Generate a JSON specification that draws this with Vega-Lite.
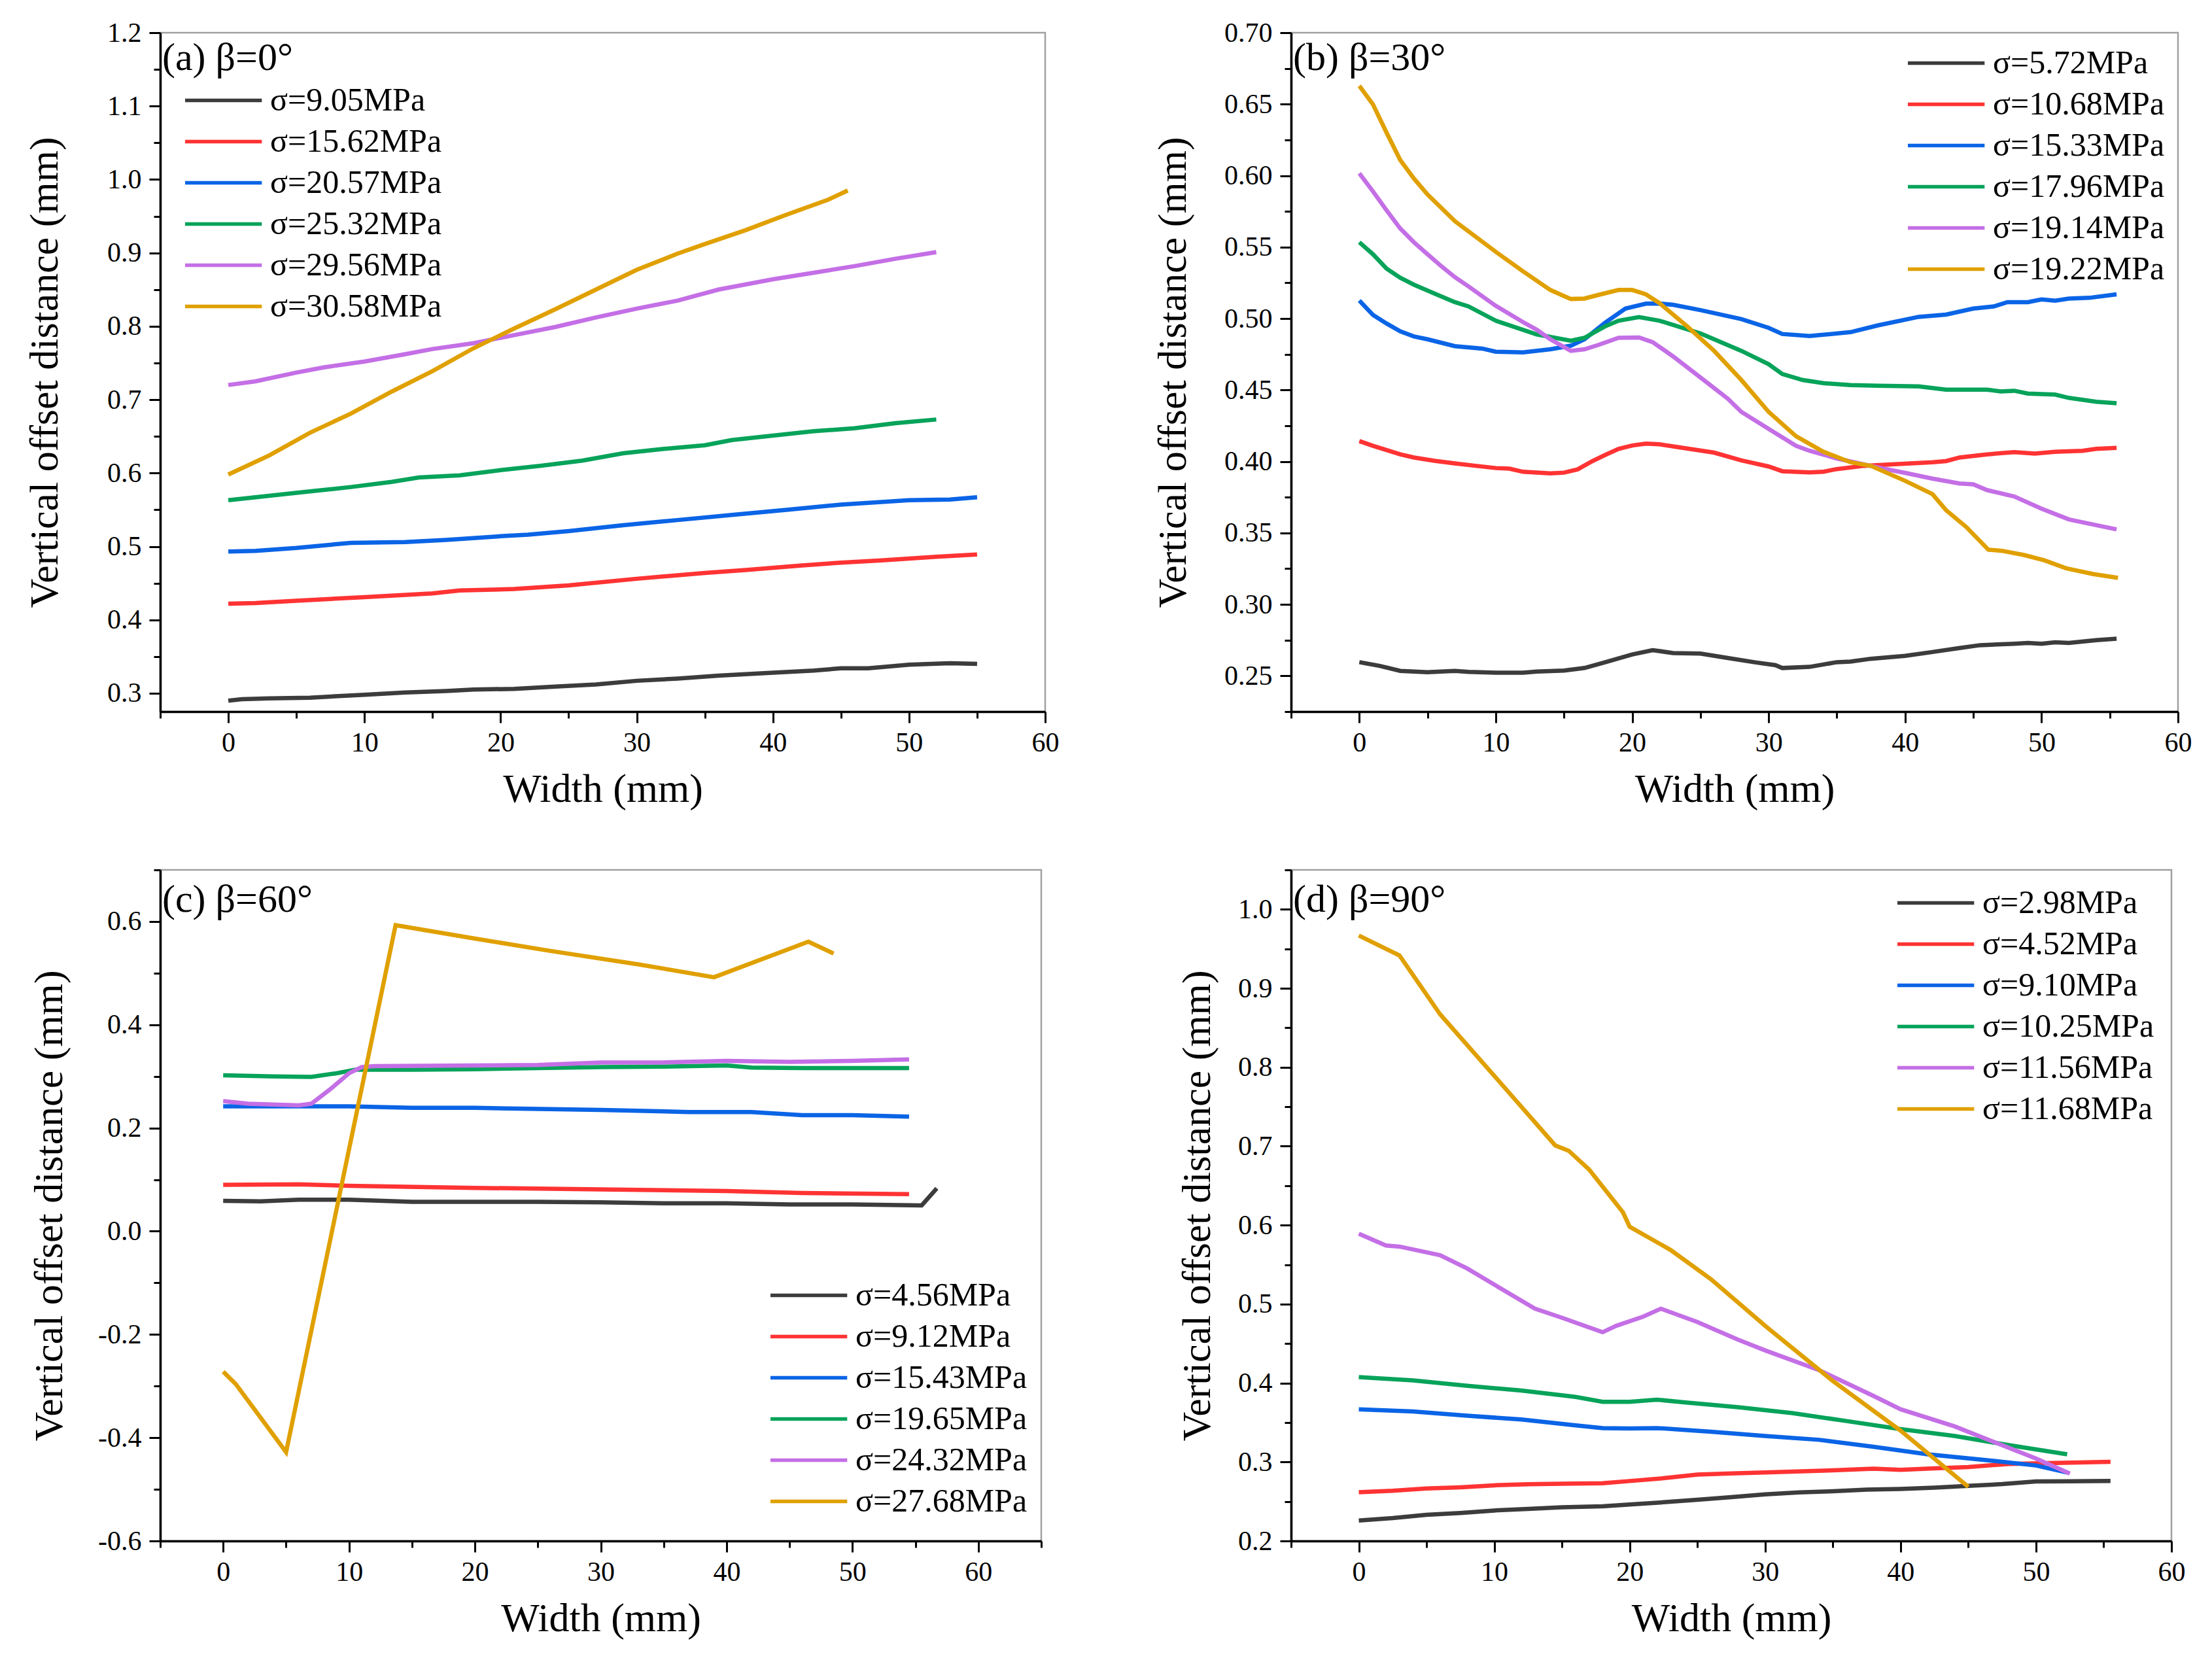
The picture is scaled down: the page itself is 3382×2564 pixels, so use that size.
{
  "$schema": "https://vega.github.io/schema/vega-lite/v6.json",
  "background": "white",
  "padding": {"left": 36, "top": 27, "right": 5, "bottom": 5},
  "columns": 2,
  "bounds": "flush",
  "align": "each",
  "spacing": {"row": 242, "column": 376},
  "resolve": {"scale": {"x": "independent", "y": "independent", "color": "independent"}, "legend": {"color": "independent"}, "axis": {"x": "independent", "y": "independent"}},
  "datasets": {
    "a": [
      {"s":"σ=9.05MPa","x":0,"y":0.290},{"s":"σ=9.05MPa","x":1,"y":0.292},{"s":"σ=9.05MPa","x":3,"y":0.293},{"s":"σ=9.05MPa","x":6,"y":0.294},{"s":"σ=9.05MPa","x":10,"y":0.298},{"s":"σ=9.05MPa","x":13,"y":0.301},{"s":"σ=9.05MPa","x":16,"y":0.303},{"s":"σ=9.05MPa","x":18,"y":0.305},{"s":"σ=9.05MPa","x":21,"y":0.306},{"s":"σ=9.05MPa","x":24,"y":0.309},{"s":"σ=9.05MPa","x":27,"y":0.312},{"s":"σ=9.05MPa","x":30,"y":0.317},{"s":"σ=9.05MPa","x":33,"y":0.320},{"s":"σ=9.05MPa","x":36,"y":0.324},{"s":"σ=9.05MPa","x":40,"y":0.328},{"s":"σ=9.05MPa","x":43,"y":0.331},{"s":"σ=9.05MPa","x":45,"y":0.334},{"s":"σ=9.05MPa","x":47,"y":0.334},{"s":"σ=9.05MPa","x":50,"y":0.339},{"s":"σ=9.05MPa","x":53,"y":0.341},{"s":"σ=9.05MPa","x":55,"y":0.340},
      {"s":"σ=15.62MPa","x":0,"y":0.422},{"s":"σ=15.62MPa","x":2,"y":0.423},{"s":"σ=15.62MPa","x":5,"y":0.426},{"s":"σ=15.62MPa","x":10,"y":0.431},{"s":"σ=15.62MPa","x":15,"y":0.436},{"s":"σ=15.62MPa","x":17,"y":0.440},{"s":"σ=15.62MPa","x":21,"y":0.442},{"s":"σ=15.62MPa","x":25,"y":0.447},{"s":"σ=15.62MPa","x":30,"y":0.456},{"s":"σ=15.62MPa","x":35,"y":0.464},{"s":"σ=15.62MPa","x":38,"y":0.468},{"s":"σ=15.62MPa","x":42,"y":0.474},{"s":"σ=15.62MPa","x":45,"y":0.478},{"s":"σ=15.62MPa","x":48,"y":0.481},{"s":"σ=15.62MPa","x":52,"y":0.486},{"s":"σ=15.62MPa","x":55,"y":0.489},
      {"s":"σ=20.57MPa","x":0,"y":0.493},{"s":"σ=20.57MPa","x":2,"y":0.494},{"s":"σ=20.57MPa","x":5,"y":0.498},{"s":"σ=20.57MPa","x":9,"y":0.505},{"s":"σ=20.57MPa","x":13,"y":0.506},{"s":"σ=20.57MPa","x":16,"y":0.509},{"s":"σ=20.57MPa","x":20,"y":0.514},{"s":"σ=20.57MPa","x":22,"y":0.516},{"s":"σ=20.57MPa","x":25,"y":0.521},{"s":"σ=20.57MPa","x":29,"y":0.529},{"s":"σ=20.57MPa","x":33,"y":0.536},{"s":"σ=20.57MPa","x":37,"y":0.543},{"s":"σ=20.57MPa","x":41,"y":0.550},{"s":"σ=20.57MPa","x":45,"y":0.557},{"s":"σ=20.57MPa","x":50,"y":0.563},{"s":"σ=20.57MPa","x":53,"y":0.564},{"s":"σ=20.57MPa","x":55,"y":0.567},
      {"s":"σ=25.32MPa","x":0,"y":0.563},{"s":"σ=25.32MPa","x":3,"y":0.569},{"s":"σ=25.32MPa","x":6,"y":0.575},{"s":"σ=25.32MPa","x":9,"y":0.581},{"s":"σ=25.32MPa","x":12,"y":0.588},{"s":"σ=25.32MPa","x":14,"y":0.594},{"s":"σ=25.32MPa","x":17,"y":0.597},{"s":"σ=25.32MPa","x":20,"y":0.604},{"s":"σ=25.32MPa","x":23,"y":0.610},{"s":"σ=25.32MPa","x":26,"y":0.617},{"s":"σ=25.32MPa","x":29,"y":0.627},{"s":"σ=25.32MPa","x":32,"y":0.633},{"s":"σ=25.32MPa","x":35,"y":0.638},{"s":"σ=25.32MPa","x":37,"y":0.645},{"s":"σ=25.32MPa","x":40,"y":0.651},{"s":"σ=25.32MPa","x":43,"y":0.657},{"s":"σ=25.32MPa","x":46,"y":0.661},{"s":"σ=25.32MPa","x":49,"y":0.668},{"s":"σ=25.32MPa","x":52,"y":0.673},
      {"s":"σ=29.56MPa","x":0,"y":0.720},{"s":"σ=29.56MPa","x":2,"y":0.725},{"s":"σ=29.56MPa","x":5,"y":0.737},{"s":"σ=29.56MPa","x":7,"y":0.744},{"s":"σ=29.56MPa","x":10,"y":0.752},{"s":"σ=29.56MPa","x":13,"y":0.762},{"s":"σ=29.56MPa","x":15,"y":0.769},{"s":"σ=29.56MPa","x":18,"y":0.777},{"s":"σ=29.56MPa","x":21,"y":0.788},{"s":"σ=29.56MPa","x":24,"y":0.799},{"s":"σ=29.56MPa","x":27,"y":0.812},{"s":"σ=29.56MPa","x":30,"y":0.824},{"s":"σ=29.56MPa","x":33,"y":0.835},{"s":"σ=29.56MPa","x":36,"y":0.850},{"s":"σ=29.56MPa","x":40,"y":0.864},{"s":"σ=29.56MPa","x":43,"y":0.873},{"s":"σ=29.56MPa","x":46,"y":0.882},{"s":"σ=29.56MPa","x":49,"y":0.892},{"s":"σ=29.56MPa","x":52,"y":0.901},
      {"s":"σ=30.58MPa","x":0,"y":0.598},{"s":"σ=30.58MPa","x":3,"y":0.624},{"s":"σ=30.58MPa","x":6,"y":0.655},{"s":"σ=30.58MPa","x":9,"y":0.681},{"s":"σ=30.58MPa","x":12,"y":0.711},{"s":"σ=30.58MPa","x":15,"y":0.739},{"s":"σ=30.58MPa","x":18,"y":0.770},{"s":"σ=30.58MPa","x":21,"y":0.797},{"s":"σ=30.58MPa","x":24,"y":0.823},{"s":"σ=30.58MPa","x":27,"y":0.850},{"s":"σ=30.58MPa","x":30,"y":0.877},{"s":"σ=30.58MPa","x":33,"y":0.899},{"s":"σ=30.58MPa","x":35,"y":0.912},{"s":"σ=30.58MPa","x":38,"y":0.931},{"s":"σ=30.58MPa","x":41,"y":0.952},{"s":"σ=30.58MPa","x":44,"y":0.972},{"s":"σ=30.58MPa","x":45.5,"y":0.985}
    ],
    "b": [
      {"s":"σ=5.72MPa","x":0,"y":0.2596},{"s":"σ=5.72MPa","x":1.5,"y":0.257},{"s":"σ=5.72MPa","x":3,"y":0.2535},{"s":"σ=5.72MPa","x":5,"y":0.2526},{"s":"σ=5.72MPa","x":7,"y":0.2535},{"s":"σ=5.72MPa","x":8,"y":0.2528},{"s":"σ=5.72MPa","x":10,"y":0.2522},{"s":"σ=5.72MPa","x":12,"y":0.2522},{"s":"σ=5.72MPa","x":13,"y":0.2530},{"s":"σ=5.72MPa","x":15,"y":0.2537},{"s":"σ=5.72MPa","x":16.5,"y":0.2555},{"s":"σ=5.72MPa","x":18,"y":0.2595},{"s":"σ=5.72MPa","x":20,"y":0.265},{"s":"σ=5.72MPa","x":21.5,"y":0.268},{"s":"σ=5.72MPa","x":23,"y":0.266},{"s":"σ=5.72MPa","x":25,"y":0.2656},{"s":"σ=5.72MPa","x":27,"y":0.2625},{"s":"σ=5.72MPa","x":29,"y":0.2595},{"s":"σ=5.72MPa","x":30.5,"y":0.2575},{"s":"σ=5.72MPa","x":31,"y":0.2555},{"s":"σ=5.72MPa","x":33,"y":0.2563},{"s":"σ=5.72MPa","x":35,"y":0.2596},{"s":"σ=5.72MPa","x":36,"y":0.260},{"s":"σ=5.72MPa","x":37.5,"y":0.262},{"s":"σ=5.72MPa","x":40,"y":0.264},{"s":"σ=5.72MPa","x":42,"y":0.2667},{"s":"σ=5.72MPa","x":44,"y":0.2695},{"s":"σ=5.72MPa","x":45.5,"y":0.2715},{"s":"σ=5.72MPa","x":48,"y":0.2725},{"s":"σ=5.72MPa","x":49,"y":0.273},{"s":"σ=5.72MPa","x":50,"y":0.2725},{"s":"σ=5.72MPa","x":51,"y":0.2735},{"s":"σ=5.72MPa","x":52,"y":0.273},{"s":"σ=5.72MPa","x":54,"y":0.275},{"s":"σ=5.72MPa","x":55.5,"y":0.276},
      {"s":"σ=10.68MPa","x":0,"y":0.4143},{"s":"σ=10.68MPa","x":1,"y":0.411},{"s":"σ=10.68MPa","x":2,"y":0.408},{"s":"σ=10.68MPa","x":3,"y":0.405},{"s":"σ=10.68MPa","x":4,"y":0.4028},{"s":"σ=10.68MPa","x":5.5,"y":0.4005},{"s":"σ=10.68MPa","x":7,"y":0.3987},{"s":"σ=10.68MPa","x":8.5,"y":0.397},{"s":"σ=10.68MPa","x":10,"y":0.3954},{"s":"σ=10.68MPa","x":11,"y":0.395},{"s":"σ=10.68MPa","x":12,"y":0.3928},{"s":"σ=10.68MPa","x":14,"y":0.3917},{"s":"σ=10.68MPa","x":15,"y":0.3922},{"s":"σ=10.68MPa","x":16,"y":0.3945},{"s":"σ=10.68MPa","x":17,"y":0.3999},{"s":"σ=10.68MPa","x":18,"y":0.4045},{"s":"σ=10.68MPa","x":19,"y":0.4088},{"s":"σ=10.68MPa","x":20,"y":0.4112},{"s":"σ=10.68MPa","x":21,"y":0.4125},{"s":"σ=10.68MPa","x":22,"y":0.412},{"s":"σ=10.68MPa","x":23,"y":0.4106},{"s":"σ=10.68MPa","x":26,"y":0.4062},{"s":"σ=10.68MPa","x":28,"y":0.4008},{"s":"σ=10.68MPa","x":30,"y":0.3965},{"s":"σ=10.68MPa","x":31,"y":0.3932},{"s":"σ=10.68MPa","x":33,"y":0.3924},{"s":"σ=10.68MPa","x":34,"y":0.3928},{"s":"σ=10.68MPa","x":35,"y":0.3947},{"s":"σ=10.68MPa","x":37,"y":0.397},{"s":"σ=10.68MPa","x":39,"y":0.398},{"s":"σ=10.68MPa","x":42,"y":0.3995},{"s":"σ=10.68MPa","x":43,"y":0.4003},{"s":"σ=10.68MPa","x":44,"y":0.4028},{"s":"σ=10.68MPa","x":46,"y":0.405},{"s":"σ=10.68MPa","x":48,"y":0.4065},{"s":"σ=10.68MPa","x":49.5,"y":0.4055},{"s":"σ=10.68MPa","x":51,"y":0.4068},{"s":"σ=10.68MPa","x":53,"y":0.4075},{"s":"σ=10.68MPa","x":54,"y":0.4088},{"s":"σ=10.68MPa","x":55.5,"y":0.4095},
      {"s":"σ=15.33MPa","x":0,"y":0.5126},{"s":"σ=15.33MPa","x":1,"y":0.5025},{"s":"σ=15.33MPa","x":2,"y":0.4965},{"s":"σ=15.33MPa","x":3,"y":0.4911},{"s":"σ=15.33MPa","x":4,"y":0.4875},{"s":"σ=15.33MPa","x":5,"y":0.4855},{"s":"σ=15.33MPa","x":7,"y":0.4807},{"s":"σ=15.33MPa","x":9,"y":0.479},{"s":"σ=15.33MPa","x":10,"y":0.4768},{"s":"σ=15.33MPa","x":12,"y":0.4763},{"s":"σ=15.33MPa","x":14,"y":0.4785},{"s":"σ=15.33MPa","x":15.5,"y":0.481},{"s":"σ=15.33MPa","x":16.5,"y":0.4855},{"s":"σ=15.33MPa","x":18,"y":0.497},{"s":"σ=15.33MPa","x":19.5,"y":0.507},{"s":"σ=15.33MPa","x":21,"y":0.5104},{"s":"σ=15.33MPa","x":22,"y":0.5105},{"s":"σ=15.33MPa","x":23,"y":0.5096},{"s":"σ=15.33MPa","x":25,"y":0.5059},{"s":"σ=15.33MPa","x":28,"y":0.4996},{"s":"σ=15.33MPa","x":30,"y":0.4935},{"s":"σ=15.33MPa","x":31,"y":0.4892},{"s":"σ=15.33MPa","x":33,"y":0.4878},{"s":"σ=15.33MPa","x":36,"y":0.4905},{"s":"σ=15.33MPa","x":38,"y":0.4952},{"s":"σ=15.33MPa","x":41,"y":0.5012},{"s":"σ=15.33MPa","x":43,"y":0.5028},{"s":"σ=15.33MPa","x":45,"y":0.507},{"s":"σ=15.33MPa","x":46.5,"y":0.5085},{"s":"σ=15.33MPa","x":47.5,"y":0.5115},{"s":"σ=15.33MPa","x":49,"y":0.5115},{"s":"σ=15.33MPa","x":50,"y":0.5134},{"s":"σ=15.33MPa","x":51,"y":0.5125},{"s":"σ=15.33MPa","x":52,"y":0.514},{"s":"σ=15.33MPa","x":53.5,"y":0.5145},{"s":"σ=15.33MPa","x":55.5,"y":0.517},
      {"s":"σ=17.96MPa","x":0,"y":0.5534},{"s":"σ=17.96MPa","x":1,"y":0.545},{"s":"σ=17.96MPa","x":2,"y":0.5349},{"s":"σ=17.96MPa","x":3,"y":0.5285},{"s":"σ=17.96MPa","x":4,"y":0.5237},{"s":"σ=17.96MPa","x":5.5,"y":0.5175},{"s":"σ=17.96MPa","x":7,"y":0.5115},{"s":"σ=17.96MPa","x":8,"y":0.5085},{"s":"σ=17.96MPa","x":10,"y":0.4985},{"s":"σ=17.96MPa","x":13,"y":0.4889},{"s":"σ=17.96MPa","x":15.5,"y":0.4845},{"s":"σ=17.96MPa","x":16.5,"y":0.4865},{"s":"σ=17.96MPa","x":18,"y":0.4945},{"s":"σ=17.96MPa","x":19,"y":0.4985},{"s":"σ=17.96MPa","x":20.5,"y":0.501},{"s":"σ=17.96MPa","x":22,"y":0.4985},{"s":"σ=17.96MPa","x":25,"y":0.4896},{"s":"σ=17.96MPa","x":28,"y":0.4774},{"s":"σ=17.96MPa","x":30,"y":0.4681},{"s":"σ=17.96MPa","x":31,"y":0.4612},{"s":"σ=17.96MPa","x":32.5,"y":0.457},{"s":"σ=17.96MPa","x":34,"y":0.4548},{"s":"σ=17.96MPa","x":36,"y":0.4535},{"s":"σ=17.96MPa","x":38,"y":0.453},{"s":"σ=17.96MPa","x":41,"y":0.4525},{"s":"σ=17.96MPa","x":43,"y":0.4503},{"s":"σ=17.96MPa","x":46,"y":0.4503},{"s":"σ=17.96MPa","x":47,"y":0.449},{"s":"σ=17.96MPa","x":48,"y":0.4495},{"s":"σ=17.96MPa","x":49,"y":0.4475},{"s":"σ=17.96MPa","x":51,"y":0.4468},{"s":"σ=17.96MPa","x":52,"y":0.4445},{"s":"σ=17.96MPa","x":54,"y":0.4418},{"s":"σ=17.96MPa","x":55.5,"y":0.4408},
      {"s":"σ=19.14MPa","x":0,"y":0.6016},{"s":"σ=19.14MPa","x":1,"y":0.589},{"s":"σ=19.14MPa","x":2,"y":0.5757},{"s":"σ=19.14MPa","x":3,"y":0.563},{"s":"σ=19.14MPa","x":4,"y":0.5534},{"s":"σ=19.14MPa","x":5,"y":0.545},{"s":"σ=19.14MPa","x":6,"y":0.5367},{"s":"σ=19.14MPa","x":7,"y":0.529},{"s":"σ=19.14MPa","x":8,"y":0.5225},{"s":"σ=19.14MPa","x":10,"y":0.5089},{"s":"σ=19.14MPa","x":12,"y":0.4975},{"s":"σ=19.14MPa","x":13,"y":0.4922},{"s":"σ=19.14MPa","x":14,"y":0.4855},{"s":"σ=19.14MPa","x":15.5,"y":0.4774},{"s":"σ=19.14MPa","x":16.5,"y":0.4785},{"s":"σ=19.14MPa","x":17.5,"y":0.4815},{"s":"σ=19.14MPa","x":19,"y":0.4865},{"s":"σ=19.14MPa","x":20.5,"y":0.4868},{"s":"σ=19.14MPa","x":21.5,"y":0.4835},{"s":"σ=19.14MPa","x":23,"y":0.4735},{"s":"σ=19.14MPa","x":25,"y":0.4588},{"s":"σ=19.14MPa","x":27,"y":0.4440},{"s":"σ=19.14MPa","x":28,"y":0.4347},{"s":"σ=19.14MPa","x":30,"y":0.4228},{"s":"σ=19.14MPa","x":32,"y":0.4110},{"s":"σ=19.14MPa","x":33,"y":0.4075},{"s":"σ=19.14MPa","x":35,"y":0.4021},{"s":"σ=19.14MPa","x":38,"y":0.3958},{"s":"σ=19.14MPa","x":40,"y":0.3920},{"s":"σ=19.14MPa","x":42,"y":0.3880},{"s":"σ=19.14MPa","x":44,"y":0.3846},{"s":"σ=19.14MPa","x":45,"y":0.3840},{"s":"σ=19.14MPa","x":46,"y":0.3800},{"s":"σ=19.14MPa","x":48,"y":0.3755},{"s":"σ=19.14MPa","x":50,"y":0.3670},{"s":"σ=19.14MPa","x":52,"y":0.3595},{"s":"σ=19.14MPa","x":54,"y":0.3555},{"s":"σ=19.14MPa","x":55.5,"y":0.3525},
      {"s":"σ=19.22MPa","x":0,"y":0.6628},{"s":"σ=19.22MPa","x":1,"y":0.6498},{"s":"σ=19.22MPa","x":2,"y":0.630},{"s":"σ=19.22MPa","x":3,"y":0.6109},{"s":"σ=19.22MPa","x":4,"y":0.598},{"s":"σ=19.22MPa","x":5,"y":0.5868},{"s":"σ=19.22MPa","x":7,"y":0.5682},{"s":"σ=19.22MPa","x":10,"y":0.5467},{"s":"σ=19.22MPa","x":12,"y":0.5330},{"s":"σ=19.22MPa","x":14,"y":0.5200},{"s":"σ=19.22MPa","x":15.5,"y":0.5137},{"s":"σ=19.22MPa","x":16.5,"y":0.5140},{"s":"σ=19.22MPa","x":17.5,"y":0.5165},{"s":"σ=19.22MPa","x":19,"y":0.5200},{"s":"σ=19.22MPa","x":20,"y":0.5200},{"s":"σ=19.22MPa","x":21,"y":0.5170},{"s":"σ=19.22MPa","x":22,"y":0.5108},{"s":"σ=19.22MPa","x":24,"y":0.4948},{"s":"σ=19.22MPa","x":26,"y":0.4774},{"s":"σ=19.22MPa","x":28,"y":0.4570},{"s":"σ=19.22MPa","x":30,"y":0.4347},{"s":"σ=19.22MPa","x":32,"y":0.4177},{"s":"σ=19.22MPa","x":34,"y":0.4069},{"s":"σ=19.22MPa","x":36,"y":0.3995},{"s":"σ=19.22MPa","x":37.5,"y":0.3969},{"s":"σ=19.22MPa","x":40,"y":0.3865},{"s":"σ=19.22MPa","x":42,"y":0.3772},{"s":"σ=19.22MPa","x":43,"y":0.3660},{"s":"σ=19.22MPa","x":44.5,"y":0.3540},{"s":"σ=19.22MPa","x":46.1,"y":0.3383},{"s":"σ=19.22MPa","x":47.1,"y":0.3375},{"s":"σ=19.22MPa","x":48.7,"y":0.3346},{"s":"σ=19.22MPa","x":50.2,"y":0.3309},{"s":"σ=19.22MPa","x":51.8,"y":0.3253},{"s":"σ=19.22MPa","x":53.8,"y":0.3212},{"s":"σ=19.22MPa","x":55.6,"y":0.3186}
    ],
    "c": [
      {"s":"σ=4.56MPa","x":0,"y":0.059},{"s":"σ=4.56MPa","x":3,"y":0.058},{"s":"σ=4.56MPa","x":6,"y":0.061},{"s":"σ=4.56MPa","x":10,"y":0.061},{"s":"σ=4.56MPa","x":15,"y":0.057},{"s":"σ=4.56MPa","x":20,"y":0.057},{"s":"σ=4.56MPa","x":25,"y":0.057},{"s":"σ=4.56MPa","x":30,"y":0.056},{"s":"σ=4.56MPa","x":35,"y":0.054},{"s":"σ=4.56MPa","x":40,"y":0.054},{"s":"σ=4.56MPa","x":45,"y":0.052},{"s":"σ=4.56MPa","x":50,"y":0.052},{"s":"σ=4.56MPa","x":55.5,"y":0.050},{"s":"σ=4.56MPa","x":56.7,"y":0.083},
      {"s":"σ=9.12MPa","x":0,"y":0.090},{"s":"σ=9.12MPa","x":6,"y":0.091},{"s":"σ=9.12MPa","x":10,"y":0.088},{"s":"σ=9.12MPa","x":20,"y":0.084},{"s":"σ=9.12MPa","x":30,"y":0.081},{"s":"σ=9.12MPa","x":40,"y":0.078},{"s":"σ=9.12MPa","x":46,"y":0.074},{"s":"σ=9.12MPa","x":54.5,"y":0.072},
      {"s":"σ=15.43MPa","x":0,"y":0.242},{"s":"σ=15.43MPa","x":10,"y":0.242},{"s":"σ=15.43MPa","x":15,"y":0.239},{"s":"σ=15.43MPa","x":20,"y":0.239},{"s":"σ=15.43MPa","x":30,"y":0.235},{"s":"σ=15.43MPa","x":37,"y":0.231},{"s":"σ=15.43MPa","x":42,"y":0.231},{"s":"σ=15.43MPa","x":46,"y":0.225},{"s":"σ=15.43MPa","x":50,"y":0.225},{"s":"σ=15.43MPa","x":54.5,"y":0.222},
      {"s":"σ=19.65MPa","x":0,"y":0.302},{"s":"σ=19.65MPa","x":4,"y":0.300},{"s":"σ=19.65MPa","x":7,"y":0.299},{"s":"σ=19.65MPa","x":9,"y":0.306},{"s":"σ=19.65MPa","x":10.5,"y":0.313},{"s":"σ=19.65MPa","x":15,"y":0.313},{"s":"σ=19.65MPa","x":20,"y":0.314},{"s":"σ=19.65MPa","x":25,"y":0.316},{"s":"σ=19.65MPa","x":30,"y":0.318},{"s":"σ=19.65MPa","x":35,"y":0.319},{"s":"σ=19.65MPa","x":40,"y":0.321},{"s":"σ=19.65MPa","x":42,"y":0.317},{"s":"σ=19.65MPa","x":46,"y":0.316},{"s":"σ=19.65MPa","x":54.5,"y":0.316},
      {"s":"σ=24.32MPa","x":0,"y":0.252},{"s":"σ=24.32MPa","x":2,"y":0.247},{"s":"σ=24.32MPa","x":6,"y":0.244},{"s":"σ=24.32MPa","x":7,"y":0.247},{"s":"σ=24.32MPa","x":8.5,"y":0.275},{"s":"σ=24.32MPa","x":10,"y":0.306},{"s":"σ=24.32MPa","x":11,"y":0.318},{"s":"σ=24.32MPa","x":12,"y":0.320},{"s":"σ=24.32MPa","x":20,"y":0.321},{"s":"σ=24.32MPa","x":25,"y":0.322},{"s":"σ=24.32MPa","x":30,"y":0.327},{"s":"σ=24.32MPa","x":35,"y":0.327},{"s":"σ=24.32MPa","x":40,"y":0.330},{"s":"σ=24.32MPa","x":45,"y":0.328},{"s":"σ=24.32MPa","x":50,"y":0.330},{"s":"σ=24.32MPa","x":54.5,"y":0.333},
      {"s":"σ=27.68MPa","x":0,"y":-0.272},{"s":"σ=27.68MPa","x":1,"y":-0.296},{"s":"σ=27.68MPa","x":5,"y":-0.428},{"s":"σ=27.68MPa","x":13.7,"y":0.593},{"s":"σ=27.68MPa","x":20,"y":0.567},{"s":"σ=27.68MPa","x":26,"y":0.543},{"s":"σ=27.68MPa","x":33,"y":0.517},{"s":"σ=27.68MPa","x":39,"y":0.492},{"s":"σ=27.68MPa","x":46.5,"y":0.561},{"s":"σ=27.68MPa","x":48.5,"y":0.538}
    ],
    "d": [
      {"s":"σ=2.98MPa","x":0,"y":0.2258},{"s":"σ=2.98MPa","x":2.5,"y":0.229},{"s":"σ=2.98MPa","x":5,"y":0.2332},{"s":"σ=2.98MPa","x":7.5,"y":0.2355},{"s":"σ=2.98MPa","x":10,"y":0.2386},{"s":"σ=2.98MPa","x":12.5,"y":0.2405},{"s":"σ=2.98MPa","x":15,"y":0.2427},{"s":"σ=2.98MPa","x":18,"y":0.244},{"s":"σ=2.98MPa","x":20,"y":0.2461},{"s":"σ=2.98MPa","x":22.5,"y":0.249},{"s":"σ=2.98MPa","x":25,"y":0.2522},{"s":"σ=2.98MPa","x":27.5,"y":0.2555},{"s":"σ=2.98MPa","x":30,"y":0.259},{"s":"σ=2.98MPa","x":32.5,"y":0.2615},{"s":"σ=2.98MPa","x":35,"y":0.263},{"s":"σ=2.98MPa","x":37.5,"y":0.265},{"s":"σ=2.98MPa","x":40,"y":0.2658},{"s":"σ=2.98MPa","x":42.5,"y":0.2675},{"s":"σ=2.98MPa","x":45,"y":0.2698},{"s":"σ=2.98MPa","x":47.5,"y":0.272},{"s":"σ=2.98MPa","x":50,"y":0.2753},{"s":"σ=2.98MPa","x":52.5,"y":0.2755},{"s":"σ=2.98MPa","x":55.5,"y":0.276},
      {"s":"σ=4.52MPa","x":0,"y":0.2617},{"s":"σ=4.52MPa","x":2.5,"y":0.2635},{"s":"σ=4.52MPa","x":5,"y":0.2664},{"s":"σ=4.52MPa","x":7.5,"y":0.268},{"s":"σ=4.52MPa","x":10,"y":0.2705},{"s":"σ=4.52MPa","x":12.5,"y":0.2718},{"s":"σ=4.52MPa","x":15,"y":0.2725},{"s":"σ=4.52MPa","x":18,"y":0.2732},{"s":"σ=4.52MPa","x":20,"y":0.2759},{"s":"σ=4.52MPa","x":22.5,"y":0.2795},{"s":"σ=4.52MPa","x":25,"y":0.2841},{"s":"σ=4.52MPa","x":27.5,"y":0.2855},{"s":"σ=4.52MPa","x":30,"y":0.2868},{"s":"σ=4.52MPa","x":35,"y":0.2895},{"s":"σ=4.52MPa","x":38,"y":0.2915},{"s":"σ=4.52MPa","x":40,"y":0.2902},{"s":"σ=4.52MPa","x":42.5,"y":0.292},{"s":"σ=4.52MPa","x":45,"y":0.2936},{"s":"σ=4.52MPa","x":48,"y":0.2976},{"s":"σ=4.52MPa","x":52,"y":0.299},{"s":"σ=4.52MPa","x":55.5,"y":0.3003},
      {"s":"σ=9.10MPa","x":0,"y":0.3668},{"s":"σ=9.10MPa","x":4,"y":0.364},{"s":"σ=9.10MPa","x":8,"y":0.3586},{"s":"σ=9.10MPa","x":12,"y":0.3539},{"s":"σ=9.10MPa","x":16,"y":0.3464},{"s":"σ=9.10MPa","x":18,"y":0.343},{"s":"σ=9.10MPa","x":20,"y":0.3424},{"s":"σ=9.10MPa","x":22,"y":0.343},{"s":"σ=9.10MPa","x":26,"y":0.3383},{"s":"σ=9.10MPa","x":30,"y":0.3329},{"s":"σ=9.10MPa","x":34,"y":0.3281},{"s":"σ=9.10MPa","x":38,"y":0.3193},{"s":"σ=9.10MPa","x":42,"y":0.3098},{"s":"σ=9.10MPa","x":46,"y":0.303},{"s":"σ=9.10MPa","x":50,"y":0.2956},{"s":"σ=9.10MPa","x":52.3,"y":0.2868},
      {"s":"σ=10.25MPa","x":0,"y":0.4075},{"s":"σ=10.25MPa","x":4,"y":0.4034},{"s":"σ=10.25MPa","x":8,"y":0.3966},{"s":"σ=10.25MPa","x":12,"y":0.3905},{"s":"σ=10.25MPa","x":16,"y":0.3824},{"s":"σ=10.25MPa","x":18,"y":0.3763},{"s":"σ=10.25MPa","x":20,"y":0.3763},{"s":"σ=10.25MPa","x":22,"y":0.379},{"s":"σ=10.25MPa","x":24,"y":0.3756},{"s":"σ=10.25MPa","x":28,"y":0.3695},{"s":"σ=10.25MPa","x":32,"y":0.362},{"s":"σ=10.25MPa","x":36,"y":0.3519},{"s":"σ=10.25MPa","x":40,"y":0.3417},{"s":"σ=10.25MPa","x":44,"y":0.3329},{"s":"σ=10.25MPa","x":48,"y":0.3214},{"s":"σ=10.25MPa","x":52.3,"y":0.3098},
      {"s":"σ=11.56MPa","x":0,"y":0.5892},{"s":"σ=11.56MPa","x":2,"y":0.5742},{"s":"σ=11.56MPa","x":3,"y":0.5729},{"s":"σ=11.56MPa","x":6,"y":0.562},{"s":"σ=11.56MPa","x":8,"y":0.5451},{"s":"σ=11.56MPa","x":10,"y":0.5247},{"s":"σ=11.56MPa","x":13,"y":0.4942},{"s":"σ=11.56MPa","x":15,"y":0.4827},{"s":"σ=11.56MPa","x":18,"y":0.4644},{"s":"σ=11.56MPa","x":19,"y":0.4725},{"s":"σ=11.56MPa","x":21,"y":0.4841},{"s":"σ=11.56MPa","x":22.3,"y":0.4942},{"s":"σ=11.56MPa","x":25,"y":0.4773},{"s":"σ=11.56MPa","x":28,"y":0.4549},{"s":"σ=11.56MPa","x":30,"y":0.4414},{"s":"σ=11.56MPa","x":34,"y":0.4163},{"s":"σ=11.56MPa","x":38,"y":0.3837},{"s":"σ=11.56MPa","x":40,"y":0.3668},{"s":"σ=11.56MPa","x":44,"y":0.3451},{"s":"σ=11.56MPa","x":47,"y":0.3247},{"s":"σ=11.56MPa","x":50,"y":0.3044},{"s":"σ=11.56MPa","x":52.5,"y":0.2854},
      {"s":"σ=11.68MPa","x":0,"y":0.9668},{"s":"σ=11.68MPa","x":3,"y":0.9417},{"s":"σ=11.68MPa","x":6,"y":0.8671},{"s":"σ=11.68MPa","x":10,"y":0.7892},{"s":"σ=11.68MPa","x":14.5,"y":0.701},{"s":"σ=11.68MPa","x":15.5,"y":0.6942},{"s":"σ=11.68MPa","x":17,"y":0.6705},{"s":"σ=11.68MPa","x":19.5,"y":0.6163},{"s":"σ=11.68MPa","x":20,"y":0.598},{"s":"σ=11.68MPa","x":23,"y":0.5688},{"s":"σ=11.68MPa","x":26,"y":0.5315},{"s":"σ=11.68MPa","x":30,"y":0.4725},{"s":"σ=11.68MPa","x":35,"y":0.4027},{"s":"σ=11.68MPa","x":40,"y":0.3397},{"s":"σ=11.68MPa","x":45,"y":0.2685}
    ]
  },
  "concat": [
    {
      "width": 1353, "height": 1038,
      "data": {"name": "a"},
      "title": {"text": "(a) β=0°", "offset": -91},
      "mark": {"type": "line", "strokeWidth": 6.5},
      "encoding": {
        "x": {"field": "x", "type": "quantitative", "title": "Width (mm)",
          "scale": {"domain": [-5, 60], "nice": false, "zero": false},
          "axis": {"values": [-5,0,5,10,15,20,25,30,35,40,45,50,55,60],
            "labelFont": "Liberation Serif", "labelFontSize": 42, "titleFont": "Liberation Serif", "titleFontSize": 62,
            "labelExpr": "datum.value % 10 === 0 ? datum.label : ''",
            "tickSize": {"condition": {"test": "datum.value % 10 === 0", "value": 17}, "value": 10}}},
        "y": {"field": "y", "type": "quantitative", "title": "Vertical offset distance (mm)",
          "scale": {"domain": [0.275, 1.2], "nice": false, "zero": false},
          "axis": {"values": [0.3,0.35,0.4,0.45,0.5,0.55,0.6,0.65,0.7,0.75,0.8,0.85,0.9,0.95,1.0,1.05,1.1,1.15,1.2],
            "labelFont": "Liberation Serif", "labelFontSize": 42, "titleFont": "Liberation Serif", "titleFontSize": 62,
            "labelExpr": "round(datum.value*100) % 10 === 0 ? format(datum.value, '.1f') : ''",
            "tickSize": {"condition": {"test": "round(datum.value*100) % 10 === 0", "value": 17}, "value": 10},
            "titlePadding": 63}},
        "color": {"field": "s", "type": "nominal", "sort": null,
          "scale": {"domain": ["σ=9.05MPa","σ=15.62MPa","σ=20.57MPa","σ=25.32MPa","σ=29.56MPa","σ=30.58MPa"],
            "range": ["#3C3C3C","#FF3333","#0A64E6","#07A35A","#C46FE6","#E0A000"]},
          "legend": {"legendX": 35, "legendY": 75}}
      }
    },
    {
      "width": 1356, "height": 1038,
      "data": {"name": "b"},
      "title": {"text": "(b) β=30°", "offset": -91},
      "mark": {"type": "line", "strokeWidth": 6.5},
      "encoding": {
        "x": {"field": "x", "type": "quantitative", "title": "Width (mm)",
          "scale": {"domain": [-5, 60], "nice": false, "zero": false},
          "axis": {"values": [-5,0,5,10,15,20,25,30,35,40,45,50,55,60],
            "labelFont": "Liberation Serif", "labelFontSize": 42, "titleFont": "Liberation Serif", "titleFontSize": 62,
            "labelExpr": "datum.value % 10 === 0 ? datum.label : ''",
            "tickSize": {"condition": {"test": "datum.value % 10 === 0", "value": 17}, "value": 10}}},
        "y": {"field": "y", "type": "quantitative", "title": "Vertical offset distance (mm)",
          "scale": {"domain": [0.225, 0.7], "nice": false, "zero": false},
          "axis": {"values": [0.225,0.25,0.275,0.3,0.325,0.35,0.375,0.4,0.425,0.45,0.475,0.5,0.525,0.55,0.575,0.6,0.625,0.65,0.675,0.7],
            "labelFont": "Liberation Serif", "labelFontSize": 42, "titleFont": "Liberation Serif", "titleFontSize": 62,
            "labelExpr": "round(datum.value*1000) % 50 === 0 ? format(datum.value, '.2f') : ''",
            "tickSize": {"condition": {"test": "round(datum.value*1000) % 50 === 0", "value": 17}, "value": 10},
            "titlePadding": 46}},
        "color": {"field": "s", "type": "nominal", "sort": null,
          "scale": {"domain": ["σ=5.72MPa","σ=10.68MPa","σ=15.33MPa","σ=17.96MPa","σ=19.14MPa","σ=19.22MPa"],
            "range": ["#3C3C3C","#FF3333","#0A64E6","#07A35A","#C46FE6","#E0A000"]},
          "legend": {"legendX": 940, "legendY": 18}}
      }
    },
    {
      "width": 1347, "height": 1026,
      "data": {"name": "c"},
      "title": {"text": "(c) β=60°", "offset": -98},
      "mark": {"type": "line", "strokeWidth": 6.5},
      "encoding": {
        "x": {"field": "x", "type": "quantitative", "title": "Width (mm)",
          "scale": {"domain": [-5, 65], "nice": false, "zero": false},
          "axis": {"values": [-5,0,5,10,15,20,25,30,35,40,45,50,55,60,65],
            "labelFont": "Liberation Serif", "labelFontSize": 42, "titleFont": "Liberation Serif", "titleFontSize": 62,
            "labelExpr": "datum.value % 10 === 0 ? datum.label : ''",
            "tickSize": {"condition": {"test": "datum.value % 10 === 0", "value": 17}, "value": 10}}},
        "y": {"field": "y", "type": "quantitative", "title": "Vertical offset distance (mm)",
          "scale": {"domain": [-0.6, 0.7], "nice": false, "zero": false},
          "axis": {"values": [-0.6,-0.5,-0.4,-0.3,-0.2,-0.1,0,0.1,0.2,0.3,0.4,0.5,0.6,0.7],
            "labelFont": "Liberation Serif", "labelFontSize": 42, "titleFont": "Liberation Serif", "titleFontSize": 62,
            "labelExpr": "round(datum.value*10) % 2 === 0 ? (datum.value < 0 ? '-' + format(-datum.value, '.1f') : format(datum.value, '.1f')) : ''",
            "tickSize": {"condition": {"test": "round(datum.value*10) % 2 === 0", "value": 17}, "value": 10},
            "titlePadding": 42}},
        "color": {"field": "s", "type": "nominal", "sort": null,
          "scale": {"domain": ["σ=4.56MPa","σ=9.12MPa","σ=15.43MPa","σ=19.65MPa","σ=24.32MPa","σ=27.68MPa"],
            "range": ["#3C3C3C","#FF3333","#0A64E6","#07A35A","#C46FE6","#E0A000"]},
          "legend": {"legendX": 930, "legendY": 622}}
      }
    },
    {
      "width": 1346, "height": 1026,
      "data": {"name": "d"},
      "title": {"text": "(d) β=90°", "offset": -98},
      "mark": {"type": "line", "strokeWidth": 6.5},
      "encoding": {
        "x": {"field": "x", "type": "quantitative", "title": "Width (mm)",
          "scale": {"domain": [-5, 60], "nice": false, "zero": false},
          "axis": {"values": [-5,0,5,10,15,20,25,30,35,40,45,50,55,60],
            "labelFont": "Liberation Serif", "labelFontSize": 42, "titleFont": "Liberation Serif", "titleFontSize": 62,
            "labelExpr": "datum.value % 10 === 0 ? datum.label : ''",
            "tickSize": {"condition": {"test": "datum.value % 10 === 0", "value": 17}, "value": 10}}},
        "y": {"field": "y", "type": "quantitative", "title": "Vertical offset distance (mm)",
          "scale": {"domain": [0.2, 1.05], "nice": false, "zero": false},
          "axis": {"values": [0.2,0.25,0.3,0.35,0.4,0.45,0.5,0.55,0.6,0.65,0.7,0.75,0.8,0.85,0.9,0.95,1.0,1.05],
            "labelFont": "Liberation Serif", "labelFontSize": 42, "titleFont": "Liberation Serif", "titleFontSize": 62,
            "labelExpr": "round(datum.value*100) % 10 === 0 ? format(datum.value, '.1f') : ''",
            "tickSize": {"condition": {"test": "round(datum.value*100) % 10 === 0", "value": 17}, "value": 10},
            "titlePadding": 30}},
        "color": {"field": "s", "type": "nominal", "sort": null,
          "scale": {"domain": ["σ=2.98MPa","σ=4.52MPa","σ=9.10MPa","σ=10.25MPa","σ=11.56MPa","σ=11.68MPa"],
            "range": ["#3C3C3C","#FF3333","#0A64E6","#07A35A","#C46FE6","#E0A000"]},
          "legend": {"legendX": 924, "legendY": 22}}
      }
    }
  ],
  "config": {
    "font": "Liberation Serif",
    "view": {"stroke": "#A0A0A0", "strokeWidth": 2.5},
    "style": {"guide-label": {"font": "Liberation Serif"}, "guide-title": {"font": "Liberation Serif"}},
    "title": {"font": "Liberation Serif", "fontSize": 60, "fontWeight": "normal", "color": "black", "anchor": "start", "frame": "group", "baseline": "alphabetic", "dx": 3},
    "axis": {"labelFont": "Liberation Serif", "labelFontSize": 42, "labelColor": "black", "labelPadding": 10, "labelOverlap": false, "labelFlush": false,
      "titleFont": "Liberation Serif", "titleFontSize": 62, "titleFontWeight": "normal", "titleColor": "black", "titlePadding": 20,
      "domainColor": "black", "domainWidth": 3.5, "tickColor": "black", "tickWidth": 3, "grid": false},
    "axisY": {"labelPadding": 12},
    "legend": {"orient": "none", "title": null, "labelFont": "Liberation Serif", "labelFontSize": 50, "labelColor": "black", "labelLimit": 0,
      "symbolType": "M-1,0H3.6", "symbolSize": 2601, "symbolStrokeWidth": 5.5, "rowPadding": 9, "labelOffset": 76, "padding": 0, "direction": "vertical"}
  }
}
